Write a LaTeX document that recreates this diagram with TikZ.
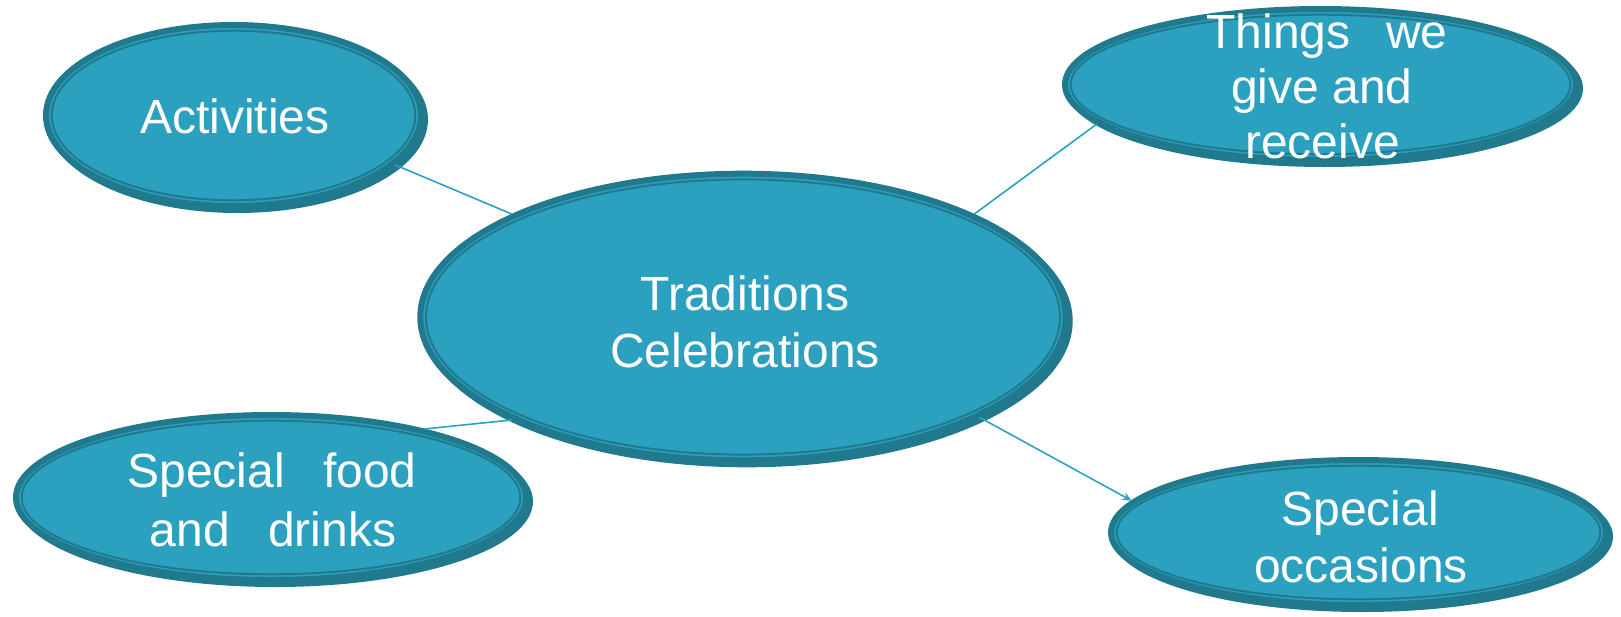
\documentclass[tikz,border=0pt]{standalone}
\usepackage{fontspec}
\setmainfont{Liberation Sans}
\usetikzlibrary{shapes.geometric,arrows.meta}
\definecolor{tfill}{RGB}{44,161,191}
\definecolor{tdark}{RGB}{32,121,141}
\definecolor{tline}{RGB}{42,163,195}
\tikzset{
  bubble/.style={ellipse, fill=tfill, draw=tdark, line width=6pt, inner sep=0pt},
  shadowfill/.style={fill=tdark},
  innerring/.style={draw=tdark, line width=2pt},
  lbl/.style={anchor=base, text=white, inner sep=0pt, font=\fontsize{48}{57}\selectfont},
  conn/.style={draw=tline, line width=1.6pt},
}
\begin{document}
\begin{tikzpicture}[x=1pt,y=-1pt]
\useasboundingbox (0,0) rectangle (1621,616);
% shadows
\fill[shadowfill] (237.5,119.5) ellipse (190.5 and 93.5);
\fill[shadowfill] (747,321) ellipse (325.7 and 146.3);
\fill[shadowfill] (1324.5,88.5) ellipse (258.5 and 78.5);
\fill[shadowfill] (275,501.5) ellipse (258 and 85.5);
\fill[shadowfill] (1362.5,536.5) ellipse (250.5 and 75.5);
% ellipses
\node[bubble, minimum width=375pt, minimum height=181pt] (act) at (233.5,115.5) {};
\node[bubble, minimum width=645.4pt, minimum height=286.6pt] (cen) at (743,317) {};
\node[bubble, minimum width=511pt, minimum height=151pt] (thi) at (1320.5,84.5) {};
\node[bubble, minimum width=510pt, minimum height=165pt] (foo) at (271,497.5) {};
\node[bubble, minimum width=495pt, minimum height=145pt] (occ) at (1358.5,532.5) {};
% inner thin rings
\draw[innerring] (act.center) ellipse (181.8 and 84.8);
\draw[innerring] (cen.center) ellipse (317 and 137.6);
\draw[innerring] (thi.center) ellipse (249.8 and 69.8);
\draw[innerring] (foo.center) ellipse (249.3 and 76.8);
\draw[innerring] (occ.center) ellipse (241.8 and 66.8);
% connectors
\draw[conn] (act.-17.5) -- (cen.156);
\draw[conn] (cen.24.2) -- (thi.-170.5);
\draw[conn] (cen.-156.6) -- (foo.24.5);
\draw[conn, -{Stealth[length=9pt,width=8pt]}] (cen.-23.5) -- (occ.172.5);
% texts
\node[lbl] (actT) at (235,133) {Activities};
\node[lbl] (cenT1) at (745,310) {Traditions};
\node[lbl] (cenT2) at (745,367) {Celebrations};
\node[lbl] (thiT1) at (1327,48) {Things\hspace{22pt} we};
\node[lbl] (thiT2) at (1322,103) {give and};
\node[lbl] (thiT3) at (1322.5,158) {receive};
\node[lbl] (fooT1) at (272,487) {Special\hspace{25pt} food};
\node[lbl] (fooT2) at (273,546) {and\hspace{25pt} drinks};
\node[lbl] (occT1) at (1360,525) {Special};
\node[lbl] (occT2) at (1361,582) {occasions};
\end{tikzpicture}
\end{document}
